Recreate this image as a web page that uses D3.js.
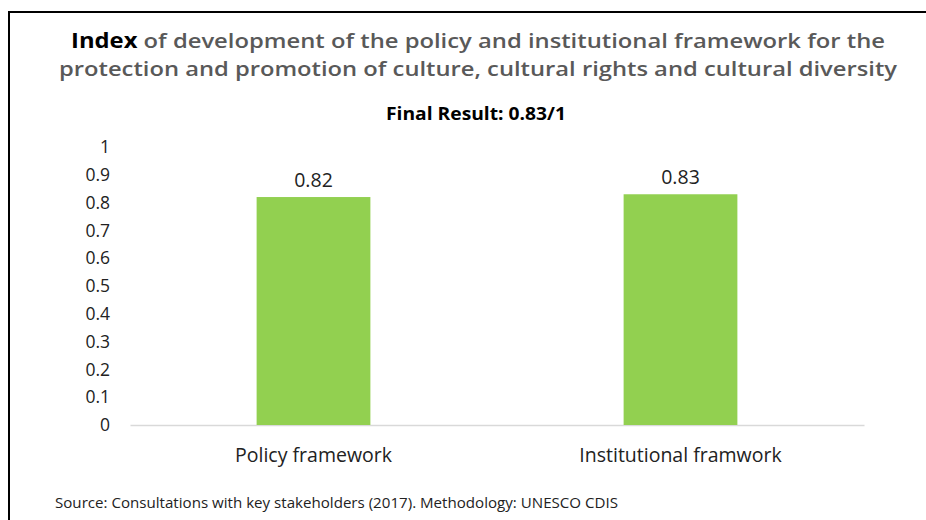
<!DOCTYPE html>
<html><head><meta charset="utf-8">
<script src="https://cdn.jsdelivr.net/npm/d3@7"></script>
<style>body{margin:0;background:#fff}svg{display:block}</style>
</head><body><svg id="c" width="926" height="520"></svg>
<script>
const categories = ["Policy framework", "Institutional framwork"];
const values = [0.82, 0.83];
const valueLabels = ["0.82", "0.83"];
const yTicks = [0, 0.1, 0.2, 0.3, 0.4, 0.5, 0.6, 0.7, 0.8, 0.9, 1];
const titleLines = ["of development of the policy and institutional framework for the", "protection and promotion of culture, cultural rights and cultural diversity"];
const subtitle = "Final Result: 0.83/1";
const source = "Source: Consultations with key stakeholders (2017). Methodology: UNESCO CDIS";

const svg = d3.select("#c");
const font = "'Open Sans', sans-serif";
svg.append("rect").attr("x", 9).attr("y", 12).attr("width", 940).attr("height", 540)
  .attr("fill", "#fff").attr("stroke", "#000").attr("stroke-width", 2);

const x = d3.scaleBand().domain(categories).range([130, 864]);
const y = d3.scaleLinear().domain([0, 1]).range([425, 147]);

// title
const t1 = svg.append("text").attr("x", 71).attr("y", 48)
  .attr("textLength", 814).attr("lengthAdjust", "spacingAndGlyphs")
  .attr("font-family", font).attr("font-size", 20.5).attr("font-weight", 600).attr("fill", "#595959");
t1.append("tspan").attr("font-weight", "bold").attr("fill", "#000").text("Index");
t1.append("tspan").text(" " + titleLines[0]);
svg.append("text").attr("x", 59).attr("y", 76)
  .attr("textLength", 838).attr("lengthAdjust", "spacingAndGlyphs")
  .attr("font-family", font).attr("font-size", 20.5).attr("font-weight", 600).attr("fill", "#595959").text(titleLines[1]);
svg.append("text").attr("x", 476).attr("y", 120).attr("text-anchor", "middle")
  .attr("textLength", 180).attr("lengthAdjust", "spacingAndGlyphs")
  .attr("font-family", font).attr("font-size", 17).attr("font-weight", "bold").attr("fill", "#000").text(subtitle);

// y axis
const ya = svg.append("g").attr("transform", "translate(110,0)")
  .call(d3.axisLeft(y).tickValues(yTicks).tickSize(0).tickPadding(0).tickFormat(d => String(d)));
ya.select(".domain").remove();
ya.selectAll("text").attr("font-family", font).attr("font-size", 17.5).attr("fill", "#222");

// baseline
const xa = svg.append("g").attr("transform", "translate(0,425)")
  .call(d3.axisBottom(x).tickSize(0).tickPadding(0));
xa.select(".domain").attr("stroke", "#d9d9d9").attr("stroke-width", 1.5);
xa.selectAll("text").attr("dy", null).attr("y", 37).attr("font-family", font).attr("font-size", 19.5).attr("fill", "#222");

const bw = x.bandwidth() * 0.31;
svg.append("g").selectAll("rect").data(categories).join("rect")
  .attr("x", (d) => x(d) + x.bandwidth() / 2 - bw / 2)
  .attr("y", (d, i) => y(values[i]))
  .attr("width", bw)
  .attr("height", (d, i) => y(0) - y(values[i]))
  .attr("fill", "#92D050");

svg.append("g").selectAll("text").data(categories).join("text")
  .attr("x", d => x(d) + x.bandwidth() / 2)
  .attr("y", (d, i) => y(values[i]) - 10)
  .attr("text-anchor", "middle").attr("font-family", font).attr("font-size", 19.5).attr("fill", "#222")
  .text((d, i) => valueLabels[i]);

svg.append("text").attr("x", 55).attr("y", 508)
  .attr("textLength", 563).attr("lengthAdjust", "spacingAndGlyphs")
  .attr("font-family", font).attr("font-size", 14).attr("fill", "#222").text(source);
</script></body></html>
